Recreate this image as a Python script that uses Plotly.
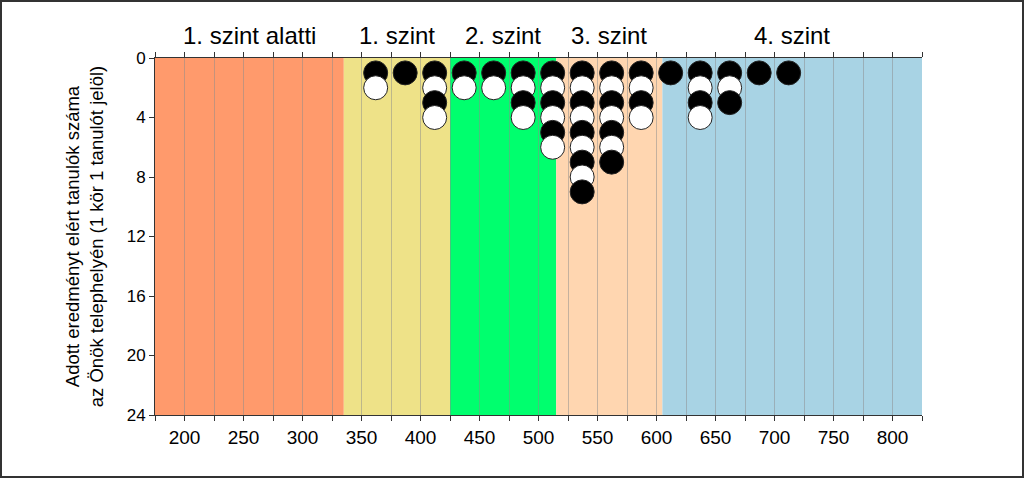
import plotly.graph_objects as go

# Data
band_names = ["1. szint alatti", "1. szint", "2. szint", "3. szint", "4. szint"]
band_edges = [175, 335, 425, 515, 605, 825]
band_colors = ["#FF9A6C", "#EEE288", "#00FF6E", "#FFD6B0", "#A8D3E4"]

col_x = [362, 387, 412, 437, 462, 487, 512, 537, 562, 587, 612, 637, 662, 687, 712]
col_counts = [2, 1, 4, 2, 2, 4, 6, 9, 7, 4, 1, 4, 3, 1, 1]

x_ticks = list(range(175, 826, 25))
y_ticks = [0, 4, 8, 12, 16, 20, 24]

# Build point lists
px, py, pc = [], [], []
for x, n in zip(col_x, col_counts):
    for k in range(1, n + 1):
        px.append(x)
        py.append(k)
        pc.append("black" if k % 2 == 1 else "white")

fig = go.Figure()
fig.add_trace(go.Scatter(
    x=px, y=py, mode="markers",
    marker=dict(size=24, color=pc, line=dict(color="#222222", width=1)),
    hoverinfo="x+y", showlegend=False,
))

shapes = []
for i in range(len(band_names)):
    shapes.append(dict(type="rect", xref="x", yref="paper",
                       x0=band_edges[i], x1=band_edges[i + 1], y0=0, y1=1,
                       fillcolor=band_colors[i], line=dict(width=0), layer="below"))

W, H = 1024, 478
l, r, t, b = 155, 102, 58, 63
pw, ph = W - l - r, H - t - b
def px2x(p):
    return (p - l) / pw
def py2y(p):
    return (H - b - p) / ph

shapes.append(dict(type="rect", xref="paper", yref="paper",
                   x0=px2x(1), x1=px2x(W - 1), y0=py2y(H - 1), y1=py2y(1),
                   line=dict(color="#333333", width=2), fillcolor="rgba(0,0,0,0)", layer="above"))

annotations = []
for i, name in enumerate(band_names):
    annotations.append(dict(x=(band_edges[i] + band_edges[i + 1]) / 2, y=1, xref="x", yref="paper",
                            yanchor="bottom", yshift=7, text=name, showarrow=False,
                            font=dict(size=24, color="black", family="Liberation Sans, Arial")))

fig.update_layout(
    width=W, height=H,
    margin=dict(l=l, r=r, t=t, b=b, autoexpand=False),
    paper_bgcolor="white", plot_bgcolor="white",
    shapes=shapes, annotations=annotations,
    font=dict(family="Liberation Sans, Arial", color="black"),
    xaxis=dict(range=[175, 825], tickvals=x_ticks,
               ticktext=[str(v) if v % 50 == 0 else "" for v in x_ticks],
               ticks="outside", ticklen=5, tickcolor="#333333",
               showline=True, linecolor="#333333", linewidth=1, mirror="ticks",
               showgrid=True, gridcolor="rgba(140,140,140,0.5)", gridwidth=1,
               zeroline=False, tickfont=dict(size=19), automargin=False),
    yaxis=dict(range=[24, 0], tickvals=y_ticks, ticks="outside", ticklen=5, tickcolor="#333333",
               showline=True, linecolor="#333333", linewidth=1,
               showgrid=False, zeroline=False, tickfont=dict(size=17),
               title=dict(text="Adott eredményt elért tanulók száma<br>az Önök telephelyén (1 kör 1 tanulót jelöl)",
                          font=dict(size=18.5), standoff=18),
               automargin=False),
)

fig.write_html("out.html", config={"displayModeBar": False},
               post_script="document.body.style.margin='0px';document.body.style.padding='0px';")
